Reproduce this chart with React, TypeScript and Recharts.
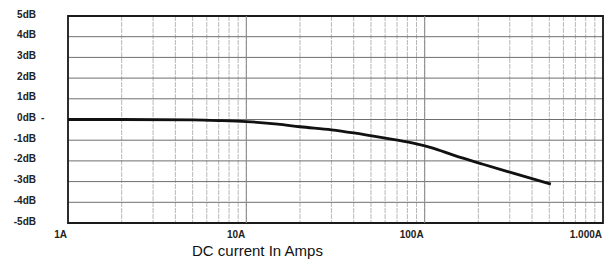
import { LineChart, Line, XAxis, YAxis, CartesianGrid, ReferenceArea, ReferenceLine } from 'recharts';

// current in amps and the measured drop in dB
const currents = [1, 2, 5, 7, 10, 15, 20, 30, 40, 60, 85, 110, 145, 210, 310, 510];
const gains = [0, 0, -0.02, -0.05, -0.1, -0.22, -0.35, -0.5, -0.65, -0.9, -1.13, -1.37, -1.72, -2.15, -2.58, -3.12];

const xGridTicks = [1, 2, 3, 4, 5, 6, 7, 8, 9, 10, 20, 30, 40, 50, 60, 70, 80, 90, 100, 200, 300, 400, 500, 600, 700, 800, 900, 1000];
const xDecades = [1, 10, 100, 1000];
const xLabels = ['1A', '10A', '100A', '1.000A'];

const yTicks = [5, 4, 3, 2, 1, 0, -1, -2, -3, -4, -5];
const yLabels = ['5dB', '4dB', '3dB', '2dB', '1dB', '0dB', '-1dB', '-2dB', '-3dB', '-4dB', '-5dB'];
const yMinorTicks = [
  4.8, 4.6, 4.4, 4.2, 3.8, 3.6, 3.4, 3.2, 2.8, 2.6, 2.4, 2.2, 1.8, 1.6, 1.4, 1.2, 0.8, 0.6, 0.4, 0.2,
  -0.2, -0.4, -0.6, -0.8, -1.2, -1.4, -1.6, -1.8, -2.2, -2.4, -2.6, -2.8, -3.2, -3.4, -3.6, -3.8, -4.2, -4.4, -4.6, -4.8,
];

const data = currents.map((a, i) => ({ amps: a, db: gains[i] }));

const font = '"Liberation Sans", Arial, sans-serif';

function XTick({ x, y, payload }: any) {
  const idx = xDecades.indexOf(payload.value);
  if (idx < 0) return <g />;
  return (
    <text x={x - 1} y={y + 11} textAnchor="end" dominantBaseline="central"
      fontFamily={font} fontWeight="bold" fontSize={10} fill="#222">
      {xLabels[idx]}
    </text>
  );
}

function YTick({ x, y, payload }: any) {
  const idx = yTicks.indexOf(payload.value);
  if (idx < 0) return <g />;
  return (
    <g>
      <text x={x} y={y - 2} textAnchor="end" dominantBaseline="central"
        fontFamily={font} fontWeight="bold" fontSize={10} fill="#222">
        {yLabels[idx]}
      </text>
      {payload.value === 0 && (
        <text x={x + 5} y={y - 2} dominantBaseline="central" fontFamily={font} fontWeight="bold" fontSize={10} fill="#222">-</text>
      )}
    </g>
  );
}

export default function App() {
  return (
    <div style={{ position: 'absolute', left: 0, top: 0, width: 611, height: 259, background: '#fff' }}>
      <LineChart width={611} height={259} data={data} margin={{ top: 16, right: 8, left: 8, bottom: 16 }}>
        <CartesianGrid horizontal={false} stroke="#b8b8b8" strokeDasharray="5 1" />
        <CartesianGrid vertical={false} stroke="#6e6e6e" />
        <ReferenceLine x={10} stroke="#8a8a8a" />
        <ReferenceLine x={100} stroke="#8a8a8a" />
        <XAxis dataKey="amps" type="number" scale="log" domain={[1, 1000]} ticks={xGridTicks}
          interval={0} allowDataOverflow axisLine={false} tickLine={false} tickSize={0} tickMargin={0}
          height={20} tick={<XTick />} />
        <YAxis type="number" domain={[-5, 5]} ticks={yTicks} interval={0} width={60}
          axisLine={false} tickLine={false} tickSize={0} tickMargin={32} tick={<YTick />} />
        <YAxis yAxisId="minor" type="number" domain={[-5, 5]} ticks={yMinorTicks} interval={0} mirror
          axisLine={false} tickSize={4} stroke="#777" tick={() => <g />} />
        <ReferenceArea x1={1} x2={1000} y1={-5} y2={5} fill="none" stroke="#1a1a1a" strokeWidth={1.8} />
        <Line type="monotone" dataKey="db" stroke="#111" strokeWidth={2.8} dot={false} isAnimationActive={false} />
      </LineChart>
      <div style={{ position: 'absolute', left: 192, top: 242, fontFamily: font, fontSize: 15, lineHeight: '17px', color: '#111', whiteSpace: 'nowrap' }}>
        DC current In Amps
      </div>
    </div>
  );
}
